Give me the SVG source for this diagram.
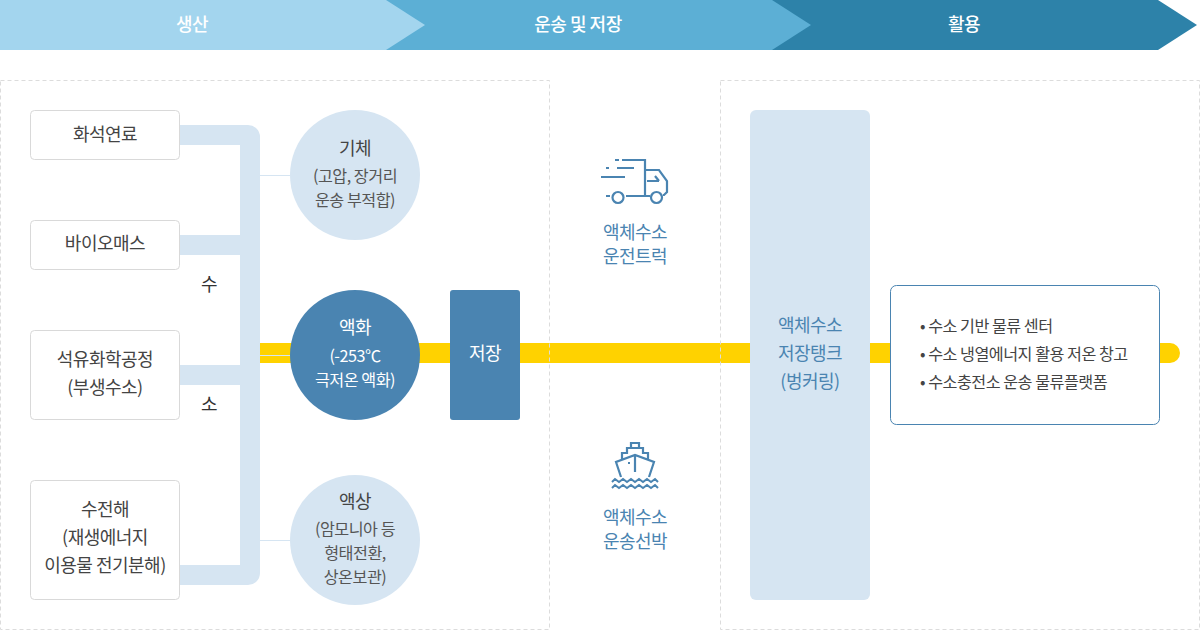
<svg xmlns="http://www.w3.org/2000/svg" width="1200" height="630" viewBox="0 0 1200 630">
<style>
text{font-family:"Noto Sans CJK KR","Noto Sans",sans-serif;text-anchor:middle;letter-spacing:-0.5px}
.h{font-size:18px;fill:#fff;font-weight:500}
.d{font-size:18px;fill:#444}
.s{font-size:16.200px;fill:#555}
.b{font-size:18px;fill:#4a84b1}
.li{font-size:16.200px;fill:#444;text-anchor:start}
.panel{fill:none;stroke:#dcdcdc;stroke-dasharray:4 3}
.box{fill:#fff;stroke:#d9d9d9}
.ic{fill:none;stroke:#4a84b1;stroke-width:2.200}
.lt{fill:#d6e5f2}
.blue{fill:#4a84b1}
</style>
<g id="header">
<polygon points="772,0 1158,0 1197,25 1158,50 772,50" fill="#2d82a9"/>
<polygon points="386,0 772,0 811,25 772,50 386,50" fill="#5cafd5"/>
<polygon points="0,0 386,0 425,25 386,50 0,50" fill="#a3d5ee"/>
<text class="h" x="192" y="31">생산</text>
<text class="h" x="578" y="31">운송 및 저장</text>
<text class="h" x="964" y="31">활용</text>
</g>
<g id="connectors">
<path d="M260 343H1170a10 10 0 0 1 0 20H260Z" fill="#ffd200"/>
<path d="M180 125H248a12 12 0 0 1 12 12V573a12 12 0 0 1-12 12H180V565H240V385H180V365H240V255H180V235H240V145H180Z" class="lt"/>
<path d="M260 175.500H290M260 355.500H290M260 540.500H290" stroke="#d6e5f2" fill="none"/>
<text class="d" x="209" y="291" style="fill:#333">수</text>
<text class="d" x="209" y="411" style="fill:#333">소</text>
</g>
<g id="panels">
<rect class="panel" x="0.500" y="80.500" width="549" height="549"/>
<rect class="panel" x="720.500" y="80.500" width="479" height="549"/>
</g>
<g id="n-fossil"><rect class="box" x="30.500" y="110.500" width="149" height="49" rx="4"/><text class="d" x="105" y="141">화석연료</text></g>
<g id="n-biomass"><rect class="box" x="30.500" y="220.500" width="149" height="49" rx="4"/><text class="d" x="105" y="250">바이오매스</text></g>
<g id="n-petro"><rect class="box" x="30.500" y="330.500" width="149" height="89" rx="4"/><text class="d" x="105" y="366">석유화학공정</text><text class="d" x="105" y="394">(부생수소)</text></g>
<g id="n-water"><rect class="box" x="30.500" y="480.500" width="149" height="119" rx="4"/><text class="d" x="105" y="516">수전해</text><text class="d" x="105" y="544">(재생에너지</text><text class="d" x="105" y="572">이용물 전기분해)</text></g>
<g id="n-gas"><circle class="lt" cx="355" cy="175" r="65"/><text class="d" x="355" y="155">기체</text><text class="s" x="355" y="182">(고압, 장거리</text><text class="s" x="355" y="206">운송 부적합)</text></g>
<g id="n-liquid"><circle class="blue" cx="355" cy="355" r="65"/><text class="d" x="355" y="334" style="fill:#fff">액화</text><text class="s" x="355" y="362" style="fill:#fff">(-253℃</text><text class="s" x="355" y="386" style="fill:#fff">극저온 액화)</text></g>
<g id="n-lohc"><circle class="lt" cx="355" cy="540" r="65"/><text class="d" x="355" y="508">액상</text><text class="s" x="355" y="535">(암모니아 등</text><text class="s" x="355" y="559">형태전환,</text><text class="s" x="355" y="583">상온보관)</text></g>
<g id="n-storage"><rect class="blue" x="450" y="290" width="70" height="130" rx="3"/><text class="d" x="485" y="360" style="fill:#fff">저장</text></g>
<g id="n-truck">
<path class="ic" d="M622 160H645V196H626M610 196H606M645 170H659L667 181V192L664 195H663M650 196H645M615 160H619M617 168H634M606 168H609M601 177H625M647 181H659M655 176L659 181"/>
<circle class="ic" cx="618" cy="197.500" r="5.500"/><circle class="ic" cx="656.500" cy="197.500" r="5.500"/>
<text class="b" x="635" y="239">액체수소</text><text class="b" x="635" y="263">운전트럭</text>
</g>
<g id="n-ship">
<path class="ic" d="M621 477L616 462L635 455L654 462L649 477M635 455V472M622 459V453H627V448H643V453H648V459M631 448V443H639V448M628 463H630"/>
<path class="ic" style="stroke-width:2" d="M612 482l3-3 4 3 4-3 4 3 4-3 4 3 4-3 4 3 4-3 4 3 4-3 3 3M612 488l3-3 4 3 4-3 4 3 4-3 4 3 4-3 4 3 4-3 4 3 4-3 3 3"/>
<text class="b" x="635" y="524">액체수소</text><text class="b" x="635" y="548">운송선박</text>
</g>
<g id="n-tank"><rect class="lt" x="750" y="110" width="120" height="490" rx="6"/><text class="b" x="810" y="332">액체수소</text><text class="b" x="810" y="360">저장탱크</text><text class="b" x="810" y="388">(벙커링)</text></g>
<g id="n-use"><rect x="890.500" y="285.500" width="269" height="139" rx="6" fill="#fff" stroke="#4a84b1"/>
<text class="li" x="920" y="332">• 수소 기반 물류 센터</text><text class="li" x="920" y="360">• 수소 냉열에너지 활용 저온 창고</text><text class="li" x="920" y="388">• 수소충전소 운송 물류플랫폼</text></g>
</svg>
